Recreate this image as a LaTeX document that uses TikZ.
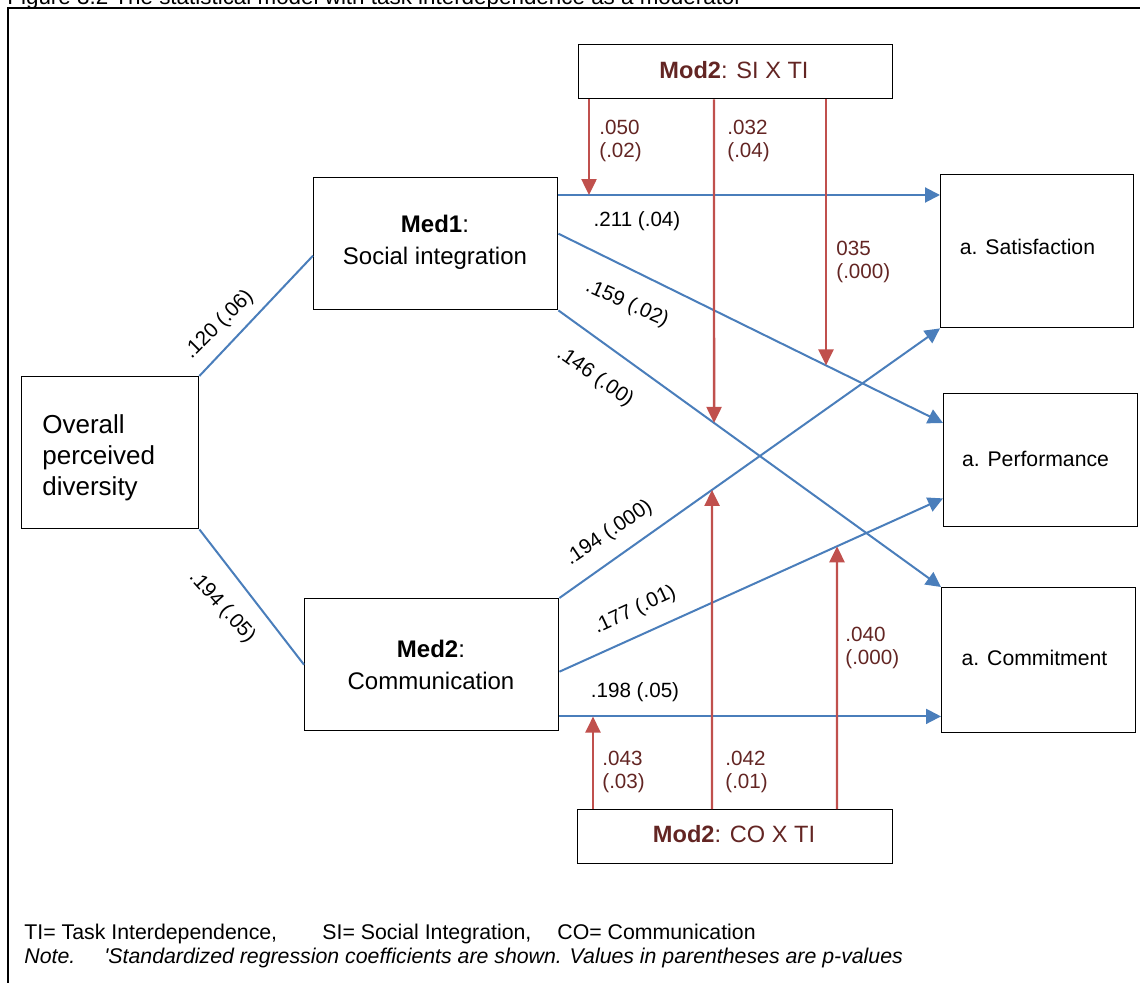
\documentclass[tikz,border=0pt]{standalone}
\usepackage{fontspec}
\setmainfont{Liberation Sans}
\usetikzlibrary{arrows.meta}
\definecolor{bl}{HTML}{4A7EBB}
\definecolor{rd}{HTML}{C0504D}
\definecolor{dr}{HTML}{632523}
\begin{document}
\begin{tikzpicture}[x=0.5pt,y=-0.5pt,
  box/.style={draw=black,line width=0.7pt,inner sep=0pt,anchor=north west},
  bline/.style={draw=bl,line width=1pt},
  barrow/.style={bline,-{Triangle[length=7.5pt,width=7.5pt]}},
  rarrow/.style={draw=rd,line width=1.2pt,-{Triangle[length=8pt,width=7.5pt]}},
  lab/.style={inner sep=0pt,font=\fontsize{10.3pt}{12pt}\selectfont},
  rlab/.style={inner sep=0pt,anchor=west,align=left,text=dr,font=\fontsize{10.3pt}{11.5pt}\selectfont},
  boxtxt/.style={inner sep=0pt,align=center,font=\fontsize{12pt}{16pt}\selectfont},
  outtxt/.style={inner sep=0pt,font=\fontsize{10.6pt}{12pt}\selectfont},
  modtxt/.style={inner sep=0pt,text=dr,font=\fontsize{11.8pt}{13pt}\selectfont},
  foot/.style={inner sep=0pt,anchor=base west,font=\fontsize{10.65pt}{12pt}\selectfont}]
\useasboundingbox (0,0) rectangle (1140,983);
% frame and title
\draw[line width=1.1pt] (8,983) -- (8,8) -- (1140,8);
\node[inner sep=0pt,anchor=base west,font=\fontsize{11.2pt}{13pt}\selectfont] (title) at (7,5)
  {Figure 3.2 The statistical model with task interdependence as a moderator};
% boxes
\node[box,minimum width=88.5pt,minimum height=76pt] (ov) at (21,376) {};
\node[box,minimum width=122pt,minimum height=66pt] (med1) at (313,177) {};
\node[box,minimum width=127pt,minimum height=66pt] (med2) at (304,598) {};
\node[box,minimum width=96.5pt,minimum height=76.5pt] (sat) at (940,174) {};
\node[box,minimum width=97pt,minimum height=66.5pt] (perf) at (943,393) {};
\node[box,minimum width=97pt,minimum height=72.5pt] (com) at (941,587) {};
\node[box,minimum width=157pt,minimum height=27pt] (si) at (578,44) {};
\node[box,minimum width=157.5pt,minimum height=27pt] (co) at (577,809) {};
% box texts
\node[inner sep=0pt,anchor=west,align=left,font=\fontsize{13pt}{15.5pt}\selectfont] (ovt) at (42,458)
  {Overall\\perceived\\diversity};
\node[boxtxt] (med1t) at (435,242) {\textbf{Med1}:\\Social integration};
\node[boxtxt] (med2t) at (431,664.5) {\textbf{Med2}:\\Communication};
\node[outtxt] (satt) at (1027.5,247) {a. Satisfaction};
\node[outtxt] (perft) at (1035.5,459) {a. Performance};
\node[outtxt] (comt) at (1034.5,658) {a. Commitment};
\node[modtxt] (sit) at (734,70) {\textbf{Mod2}: SI X TI};
\node[modtxt] (cot) at (734,834) {\textbf{Mod2}: CO X TI};
% blue connectors
\draw[bline] (ov.north east) -- ([yshift=-6pt]med1.west);
\draw[bline] (ov.south east) -- (med2.west);
\coordinate (b3s) at ([yshift=-9pt]med1.north east);
\coordinate (b3e) at (b3s -| sat.west);
\coordinate (b4s) at ([yshift=5pt]med1.east);
\coordinate (b4e) at ([yshift=-15pt]perf.north west);
\coordinate (b5s) at (med1.south east);
\coordinate (b5e) at (com.north west);
\coordinate (b6s) at (med2.north east);
\coordinate (b6e) at (sat.south west);
\coordinate (b7s) at ([yshift=-3.5pt]med2.east);
\coordinate (b7e) at ([yshift=14.5pt]perf.south west);
\coordinate (b8s) at ([yshift=7.5pt]med2.south east);
\coordinate (b8e) at (b8s -| com.west);
\draw[barrow] (b3s) -- (b3e);
\draw[barrow] (b4s) -- (b4e);
\draw[barrow] (b5s) -- (b5e);
\draw[barrow] (b6s) -- (b6e);
\draw[barrow] (b7s) -- (b7e);
\draw[barrow] (b8s) -- (b8e);
% red moderator arrows
\coordinate (r1) at ([xshift=5.5pt]si.south west);
\coordinate (r1d) at ([yshift=-200pt]r1);
\coordinate (r2) at ([xshift=68pt]si.south west);
\coordinate (r2d) at ([yshift=-200pt]r2);
\coordinate (r3) at ([xshift=124pt]si.south west);
\coordinate (r3d) at ([yshift=-200pt]r3);
\coordinate (r4) at ([xshift=8pt]co.north west);
\coordinate (r4u) at ([yshift=200pt]r4);
\coordinate (r5) at ([xshift=67.5pt]co.north west);
\coordinate (r5u) at ([yshift=200pt]r5);
\coordinate (r6) at ([xshift=130pt]co.north west);
\coordinate (r6u) at ([yshift=200pt]r6);
\draw[rarrow] (r1) -- (intersection of r1--r1d and b3s--b3e);
\draw[rarrow] (r2) -- (intersection of r2--r2d and b5s--b5e);
\draw[rarrow] (r3) -- (intersection of r3--r3d and b4s--b4e);
\draw[rarrow] (r4) -- (intersection of r4--r4u and b8s--b8e);
\draw[rarrow] (r5) -- (intersection of r5--r5u and b6s--b6e);
\draw[rarrow] (r6) -- (intersection of r6--r6u and b7s--b7e);
% red labels
\node[rlab] (l1) at (599,141) {.050\\(.02)};
\node[rlab] (l2) at (727,141) {.032\\(.04)};
\node[rlab] (l3) at (836,262) {035\\(.000)};
\node[rlab] (l4) at (602,772) {.043\\(.03)};
\node[rlab] (l5) at (725,772) {.042\\(.01)};
\node[rlab] (l6) at (845,648) {.040\\(.000)};
% black labels
\node[lab] (k1) at (637,221) {.211 (.04)};
\node[lab,rotate=-24] (k2) at (627,304) {.159 (.02)};
\node[lab,rotate=-35] (k3) at (595,377) {.146 (.00)};
\node[lab,rotate=45] (k4) at (219,325) {.120 (.06)};
\node[lab,rotate=-48] (k5) at (222,607) {.194 (.05)};
\node[lab,rotate=34] (k6) at (609,533) {.194 (.000)};
\node[lab,rotate=25] (k7) at (635,610) {.177 (.01)};
\node[lab] (k8) at (635,692) {.198 (.05)};
% footer
\node[foot] (f1) at (24,939) {TI= Task Interdependence,};
\node[foot] (f2) at (322,939) {SI= Social Integration,};
\node[foot] (f3) at (557,939) {CO= Communication};
\node[foot] (f4) at (24,963) {\textit{Note.}};
\node[foot] (f5) at (104,963) {\textit{\textquotesingle Standardized regression coefficients are shown. Values in parentheses are p-values}};
\end{tikzpicture}
\end{document}
